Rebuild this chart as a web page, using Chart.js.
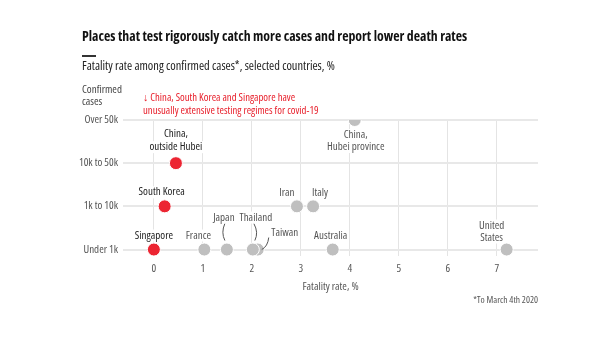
<!DOCTYPE html>
<html>
<head>
<meta charset="utf-8">
<script src="https://cdn.jsdelivr.net/npm/chart.js@4"></script>
<style>
  body { margin: 0; background: #fff; }
  #wrap { position: relative; width: 600px; height: 338px; font-family: "Open Sans", sans-serif; font-stretch: condensed; }
  #wrap canvas { position: absolute; left: 0; top: 0; }
  .txt { position: absolute; white-space: nowrap; }
  #title { left: 82px; top: 27px; font-size: 13.8px; font-weight: bold; color: #111; line-height: 18px; }
  #rule { left: 82px; top: 55px; width: 14px; height: 1.5px; background: #333; }
  #subtitle { left: 82px; top: 58px; font-size: 12.4px; color: #222; line-height: 16px; }
  #ytitle { left: 82px; top: 83px; font-size: 11px; color: #444; line-height: 12px; }
  #note { left: 143px; top: 90.5px; font-size: 10.7px; color: #e8202c; line-height: 13px; }
  #foot { right: 62px; top: 294px; font-size: 9.5px; color: #555; line-height: 12px; }
</style>
</head>
<body>
<div id="wrap">
  <canvas id="myChart" width="600" height="338"></canvas>
  <div class="txt" id="title">Places that test rigorously catch more cases and report lower death rates</div>
  <div class="txt" id="rule"></div>
  <div class="txt" id="subtitle">Fatality rate among confirmed cases*, selected countries, %</div>
  <div class="txt" id="ytitle">Confirmed<br>cases</div>
  <div class="txt" id="note">↓ China, South Korea and Singapore have<br>unusually extensive testing regimes for covid-19</div>
  <div class="txt" id="foot">*To March 4th 2020</div>
</div>
<script>
const caseBands = ['Under 1k', '1k to 10k', '10k to 50k', 'Over 50k'];
const rateTicks = [0, 1, 2, 3, 4, 5, 6, 7];

// Taiwan comes before Thailand so it sits behind it
const countries = ['Singapore', 'South Korea', 'China, outside Hubei', 'France', 'Japan', 'Taiwan', 'Thailand',
  'Iran', 'Italy', 'Australia', 'United States', 'China, Hubei province'];
const fatalityRates = [0, 0.22, 0.45, 1.03, 1.49, 2.12, 2.02, 2.92, 3.25, 3.65, 7.2, 4.1];
const confirmedBands = ['Under 1k', '1k to 10k', '10k to 50k', 'Under 1k', 'Under 1k', 'Under 1k', 'Under 1k',
  '1k to 10k', '1k to 10k', 'Under 1k', 'Under 1k', 'Over 50k'];
const testsRigorously = ['Singapore', 'South Korea', 'China, outside Hubei'];

const RED = '#ec2532';
const GREY = '#bfbfbf';
const FAMILY = '"Open Sans", sans-serif';
// chart.js puts weight straight into the font string, so "condensed" rides along there
const LABEL_FONT = { size: 11, family: FAMILY, weight: 'condensed' };

// label placement, pixel offsets from each point
const labelSpots = {
  'Singapore': { lines: ['Singapore'], dx: 0, dy: [-14] },
  'South Korea': { lines: ['South Korea'], dx: -3, dy: [-14] },
  'China, outside Hubei': { lines: ['China,', 'outside Hubei'], dx: 0, dy: [-29, -16] },
  'France': { lines: ['France'], dx: -6, dy: [-14] },
  'Japan': { lines: ['Japan'], dx: -3, dy: [-32], leader: [[-2, -26], [-6, -17], [-2, -9]] },
  'Thailand': { lines: ['Thailand'], dx: 3, dy: [-32], leader: [[1, -26], [6, -17], [2, -9]] },
  'Taiwan': { lines: ['Taiwan'], dx: 27, dy: [-17], leader: [[11, -12], [10, -3], [4, 0]] },
  'Iran': { lines: ['Iran'], dx: -10, dy: [-13] },
  'Italy': { lines: ['Italy'], dx: 7, dy: [-13] },
  'Australia': { lines: ['Australia'], dx: -2, dy: [-14] },
  'United States': { lines: ['United', 'States'], dx: -15, dy: [-24, -12] },
  'China, Hubei province': { lines: ['China,', 'Hubei province'], dx: 1, dy: [15, 27] }
};

const points = countries.map((c, i) => ({ x: fatalityRates[i], y: caseBands.indexOf(confirmedBands[i]) }));
const colours = countries.map(c => testsRigorously.includes(c) ? RED : GREY);

const pointLabels = {
  id: 'pointLabels',
  afterDatasetsDraw(chart) {
    const ctx = chart.ctx;
    const meta = chart.getDatasetMeta(0);
    ctx.save();
    ctx.font = 'condensed 11px ' + FAMILY;
    ctx.textAlign = 'center';
    ctx.textBaseline = 'middle';
    countries.forEach((c, i) => {
      const spot = labelSpots[c];
      const el = meta.data[i];
      const px = el.x, py = el.y;
      if (spot.leader) {
        const [a, b, e] = spot.leader;
        ctx.strokeStyle = '#555';
        ctx.lineWidth = 1;
        ctx.beginPath();
        ctx.moveTo(px + a[0], py + a[1]);
        ctx.quadraticCurveTo(px + b[0], py + b[1], px + e[0], py + e[1]);
        ctx.stroke();
      }
      spot.lines.forEach((line, k) => {
        const tx = px + spot.dx, ty = py + spot.dy[k];
        const w = ctx.measureText(line).width;
        ctx.fillStyle = '#fff';
        ctx.fillRect(tx - w / 2 - 1, ty - 6, w + 2, 12);
        ctx.fillStyle = testsRigorously.includes(c) ? '#222' : '#555';
        ctx.fillText(line, tx, ty);
      });
    });
    ctx.restore();
  }
};

new Chart('myChart', {
  type: 'scatter',
  data: {
    datasets: [{
      data: points,
      backgroundColor: colours,
      borderColor: '#fff',
      borderWidth: 1,
      pointRadius: 6.5,
      pointHoverRadius: 6.5
    }]
  },
  plugins: [pointLabels],
  options: {
    responsive: false,
    animation: false,
    events: [],
    layout: { padding: { top: 120, right: 62, bottom: 40, left: 0 } },
    plugins: { legend: { display: false }, tooltip: { enabled: false } },
    scales: {
      x: {
        min: -0.63,
        max: 7.84,
        afterBuildTicks: s => { s.ticks = rateTicks.map(v => ({ value: v })); },
        afterFit: s => { s.height = 42; },
        grid: { color: '#e4e4e4', lineWidth: 1, drawTicks: false },
        border: { display: false },
        ticks: { color: '#555', font: LABEL_FONT, padding: 6 },
        title: { display: true, text: 'Fatality rate, %', color: '#555', padding: { top: 2, bottom: 5 }, font: LABEL_FONT }
      },
      y: {
        min: -0.15,
        max: 3,
        afterBuildTicks: s => { s.ticks = caseBands.map((b, i) => ({ value: i })); },
        afterFit: s => { s.width = 123; },
        grid: { color: '#e8e8e8', lineWidth: 2, drawTicks: false },
        border: { display: false },
        ticks: { color: '#555', padding: 5, callback: v => caseBands[v], font: LABEL_FONT }
      }
    }
  }
});
</script>
</body>
</html>
